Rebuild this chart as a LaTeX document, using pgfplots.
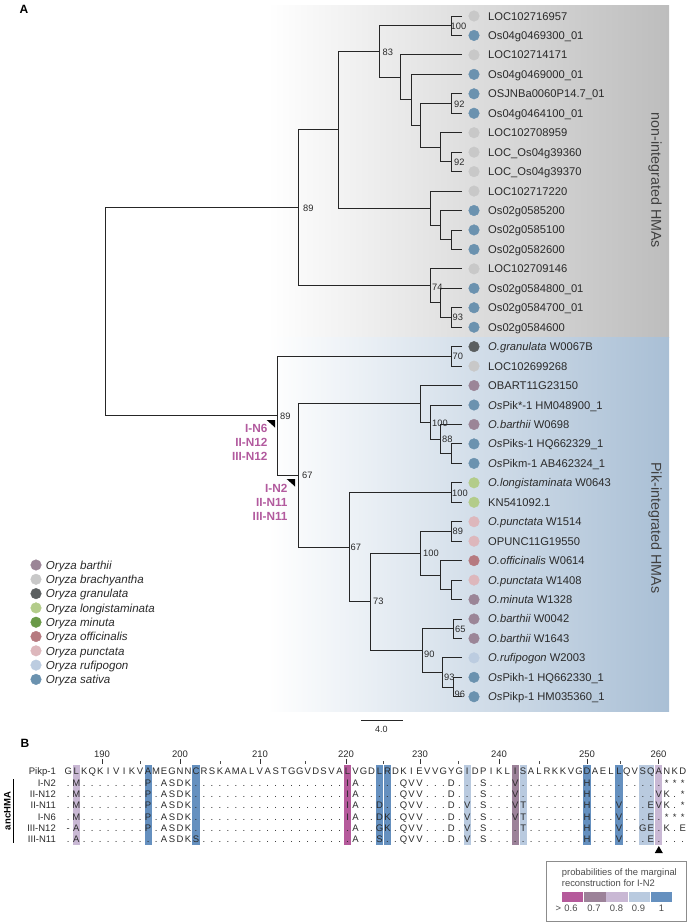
\documentclass[border=0pt]{standalone}
\usepackage{pgfplots}
\pgfplotsset{compat=1.18}
\usepackage{fontspec}
\setmainfont{Liberation Sans}
\definecolor{cbar}{HTML}{9B8597}
\definecolor{cbra}{HTML}{C8C8C8}
\definecolor{cgra}{HTML}{5B5F60}
\definecolor{clon}{HTML}{B3CC8A}
\definecolor{cmin}{HTML}{6A9A48}
\definecolor{coff}{HTML}{B67A80}
\definecolor{cpun}{HTML}{DDB7BC}
\definecolor{cruf}{HTML}{BCCCE0}
\definecolor{csat}{HTML}{6B92AF}
\definecolor{pinklab}{HTML}{B25A9E}
\definecolor{p06}{HTML}{B55A9B}
\definecolor{p07}{HTML}{9C8299}
\definecolor{p08}{HTML}{C9B8D4}
\definecolor{p09}{HTML}{B9CADF}
\definecolor{p10}{HTML}{6590BF}
\definecolor{graybg}{HTML}{BDBDBD}
\definecolor{graymid}{HTML}{EFEFEF}
\definecolor{bluebg}{HTML}{A9BFD5}
\definecolor{bluemid}{HTML}{E8EEF4}
\definecolor{txt}{HTML}{2A2A2A}
\tikzset{
  tr/.style={draw=black!85, line width=0.85pt},
  leaf/.style={anchor=base west, inner sep=0pt, font=\fontsize{11.2}{13}\selectfont, text=txt},
  bs/.style={anchor=base west, inner sep=0pt, font=\fontsize{9.3}{11}\selectfont, text=txt},
  pk/.style={anchor=base east, inner sep=0pt, font=\fontsize{11.8}{13}\selectfont\bfseries, text=pinklab},
  lg/.style={anchor=base west, inner sep=0pt, font=\fontsize{11.6}{13}\selectfont\itshape, text=txt},
  aln/.style={anchor=base, inner sep=0pt, font=\fontsize{9.5}{10}\selectfont, text=txt},
  rl/.style={anchor=base east, inner sep=0pt, font=\fontsize{9.5}{10}\selectfont, text=txt},
  num/.style={anchor=base, inner sep=0pt, font=\fontsize{9.5}{10}\selectfont, text=txt},
  dot/.style={only marks, mark=*, mark size=5.3pt, mark options={draw=none}}
}
\newcount\alncol
\def\alnrow#1#2{\def\alny{#1}\global\alncol=0 \alnchars#2\relax}
\def\alnchars#1{\ifx\relax#1\else\alnput{#1}\expandafter\alnchars\fi}
\def\alnput#1{\global\advance\alncol by 1
  \pgfmathsetmacro\alnx{68.3+7.98*(\the\alncol-1)}%
  \edef\alntmp{\noexpand\node[aln] at (axis cs:\alnx,\alny) {#1};}\alntmp}
\begin{document}
\begin{tikzpicture}
\begin{axis}[name=ax, at={(0,0)}, anchor=south west, scale only axis,
  width=688pt, height=922pt, xmin=0, xmax=688, ymin=0, ymax=922,
  y dir=reverse, hide axis, clip=false]
% background clade boxes
\addplot[draw=none, left color=white, middle color=graymid, right color=graybg] coordinates {(267,5) (669,5) (669,337) (267,337)} -- cycle;
\addplot[draw=none, left color=white, middle color=bluemid, right color=bluebg] coordinates {(267,337) (669,337) (669,711) (267,711)} -- cycle;
% tree
\addplot[tr] coordinates {(462,16) (451.7,16) (451.7,35.45) (462,35.45)};
\addplot[tr] coordinates {(462,93.8) (451.7,93.8) (451.7,113.25) (462,113.25)};
\addplot[tr] coordinates {(462,152.15) (451.7,152.15) (451.7,171.6) (462,171.6)};
\addplot[tr] coordinates {(462,132.7) (440.7,132.7) (440.7,161.9) (451.7,161.9)};
\addplot[tr] coordinates {(451.7,103.5) (420.7,103.5) (420.7,147.3) (440.7,147.3)};
\addplot[tr] coordinates {(462,74.35) (411,74.35) (411,125.4) (420.7,125.4)};
\addplot[tr] coordinates {(462,54.9) (400,54.9) (400,99.9) (411,99.9)};
\addplot[tr] coordinates {(451.7,25.7) (379.3,25.7) (379.3,77.4) (400,77.4)};
\addplot[tr] coordinates {(462,229.95) (451.7,229.95) (451.7,249.4) (462,249.4)};
\addplot[tr] coordinates {(462,210.5) (440.7,210.5) (440.7,239.7) (451.7,239.7)};
\addplot[tr] coordinates {(462,191.05) (430,191.05) (430,225.1) (440.7,225.1)};
\addplot[tr] coordinates {(379.3,51.6) (338.3,51.6) (338.3,208.1) (430,208.1)};
\addplot[tr] coordinates {(462,307.75) (451.7,307.75) (451.7,327.2) (462,327.2)};
\addplot[tr] coordinates {(462,288.3) (440.7,288.3) (440.7,317.5) (451.7,317.5)};
\addplot[tr] coordinates {(462,268.85) (430,268.85) (430,302.9) (440.7,302.9)};
\addplot[tr] coordinates {(338.3,129.9) (298.3,129.9) (298.3,285.9) (430,285.9)};
\addplot[tr] coordinates {(462,346.65) (451.7,346.65) (451.7,366.1) (462,366.1)};
\addplot[tr] coordinates {(462,443.9) (451.7,443.9) (451.7,463.35) (462,463.35)};
\addplot[tr] coordinates {(462,424.45) (440.7,424.45) (440.7,453.6) (451.7,453.6)};
\addplot[tr] coordinates {(462,405) (430,405) (430,439) (440.7,439)};
\addplot[tr] coordinates {(462,385.55) (420,385.55) (420,422) (430,422)};
\addplot[tr] coordinates {(462,482.8) (451.7,482.8) (451.7,502.25) (462,502.25)};
\addplot[tr] coordinates {(462,521.7) (451.7,521.7) (451.7,541.15) (462,541.15)};
\addplot[tr] coordinates {(462,580.05) (451.7,580.05) (451.7,599.5) (462,599.5)};
\addplot[tr] coordinates {(462,560.6) (440.7,560.6) (440.7,589.8) (451.7,589.8)};
\addplot[tr] coordinates {(451.7,531.4) (420,531.4) (420,575.2) (440.7,575.2)};
\addplot[tr] coordinates {(462,618.95) (453,618.95) (453,638.4) (462,638.4)};
\addplot[tr] coordinates {(462,677.3) (453,677.3) (453,696.75) (462,696.75)};
\addplot[tr] coordinates {(462,657.85) (442.5,657.85) (442.5,687) (453,687)};
\addplot[tr] coordinates {(453,628.7) (422,628.7) (422,672.4) (442.5,672.4)};
\addplot[tr] coordinates {(420,553.3) (370,553.3) (370,650.6) (422,650.6)};
\addplot[tr] coordinates {(451.7,492.5) (349.3,492.5) (349.3,601.9) (370,601.9)};
\addplot[tr] coordinates {(420,403.8) (298.3,403.8) (298.3,547.2) (349.3,547.2)};
\addplot[tr] coordinates {(451.7,356.4) (277,356.4) (277,475.5) (298.3,475.5)};
\addplot[tr] coordinates {(298.3,207.9) (105,207.9) (105,415.9) (277,415.9)};
% node triangles
\addplot[fill=black, draw=none] coordinates {(266.7,420) (275,420) (275,427.5)} -- cycle;
\addplot[fill=black, draw=none] coordinates {(286.7,479) (295,479) (295,486.5)} -- cycle;
% tip dots
\addplot[dot, color=cbra] coordinates {(474,16) (474,54.9) (474,132.7) (474,152.15) (474,171.6) (474,191.05) (474,268.85) (474,366.1)};
\addplot[dot, color=csat] coordinates {(474,35.45) (474,74.35) (474,93.8) (474,113.25) (474,210.5) (474,229.95) (474,249.4) (474,288.3) (474,307.75) (474,327.2) (474,405) (474,443.9) (474,463.35) (474,677.3) (474,696.75)};
\addplot[dot, color=cgra] coordinates {(474,346.65)};
\addplot[dot, color=cbar] coordinates {(474,385.55) (474,424.45) (474,599.5) (474,618.95) (474,638.4)};
\addplot[dot, color=clon] coordinates {(474,482.8) (474,502.25)};
\addplot[dot, color=cpun] coordinates {(474,521.7) (474,541.15) (474,580.05)};
\addplot[dot, color=coff] coordinates {(474,560.6)};
\addplot[dot, color=cruf] coordinates {(474,657.85)};
% legend dots
\addplot[dot, color=cbar] coordinates {(36,565)};
\addplot[dot, color=cbra] coordinates {(36,579.3)};
\addplot[dot, color=cgra] coordinates {(36,593.6)};
\addplot[dot, color=clon] coordinates {(36,607.9)};
\addplot[dot, color=cmin] coordinates {(36,622.2)};
\addplot[dot, color=coff] coordinates {(36,636.5)};
\addplot[dot, color=cpun] coordinates {(36,650.8)};
\addplot[dot, color=cruf] coordinates {(36,665.1)};
\addplot[dot, color=csat] coordinates {(36,679.4)};
% scale bar
\addplot[tr] coordinates {(361.4,720.4) (403.2,720.4)};
% leaf labels
\node[leaf] at (axis cs:488,20) {LOC102716957};
\node[leaf] at (axis cs:488,39.45) {Os04g0469300\_01};
\node[leaf] at (axis cs:488,58.9) {LOC102714171};
\node[leaf] at (axis cs:488,78.35) {Os04g0469000\_01};
\node[leaf] at (axis cs:488,97.8) {OSJNBa0060P14.7\_01};
\node[leaf] at (axis cs:488,117.25) {Os04g0464100\_01};
\node[leaf] at (axis cs:488,136.7) {LOC102708959};
\node[leaf] at (axis cs:488,156.15) {LOC\_Os04g39360};
\node[leaf] at (axis cs:488,175.6) {LOC\_Os04g39370};
\node[leaf] at (axis cs:488,195.05) {LOC102717220};
\node[leaf] at (axis cs:488,214.5) {Os02g0585200};
\node[leaf] at (axis cs:488,233.95) {Os02g0585100};
\node[leaf] at (axis cs:488,253.4) {Os02g0582600};
\node[leaf] at (axis cs:488,272.85) {LOC102709146};
\node[leaf] at (axis cs:488,292.3) {Os02g0584800\_01};
\node[leaf] at (axis cs:488,311.75) {Os02g0584700\_01};
\node[leaf] at (axis cs:488,331.2) {Os02g0584600};
\node[leaf] at (axis cs:488,350.65) {\textit{O.granulata} W0067B};
\node[leaf] at (axis cs:488,370.1) {LOC102699268};
\node[leaf] at (axis cs:488,389.55) {OBART11G23150};
\node[leaf] at (axis cs:488,409) {\textit{Os}Pik*-1 HM048900\_1};
\node[leaf] at (axis cs:488,428.45) {\textit{O.barthii} W0698};
\node[leaf] at (axis cs:488,447.9) {\textit{Os}Piks-1 HQ662329\_1};
\node[leaf] at (axis cs:488,467.35) {\textit{Os}Pikm-1 AB462324\_1};
\node[leaf] at (axis cs:488,486.8) {\textit{O.longistaminata} W0643};
\node[leaf] at (axis cs:488,506.25) {KN541092.1};
\node[leaf] at (axis cs:488,525.7) {\textit{O.punctata} W1514};
\node[leaf] at (axis cs:488,545.15) {OPUNC11G19550};
\node[leaf] at (axis cs:488,564.6) {\textit{O.officinalis} W0614};
\node[leaf] at (axis cs:488,584.05) {\textit{O.punctata} W1408};
\node[leaf] at (axis cs:488,603.5) {\textit{O.minuta} W1328};
\node[leaf] at (axis cs:488,622.95) {\textit{O.barthii} W0042};
\node[leaf] at (axis cs:488,642.4) {\textit{O.barthii} W1643};
\node[leaf] at (axis cs:488,661.85) {\textit{O.rufipogon} W2003};
\node[leaf] at (axis cs:488,681.3) {\textit{Os}Pikh-1 HQ662330\_1};
\node[leaf] at (axis cs:488,700.75) {\textit{Os}Pikp-1 HM035360\_1};
% bootstrap values
\node[bs] at (axis cs:450.5,29.3) {100};
\node[bs] at (axis cs:382.5,55.3) {83};
\node[bs] at (axis cs:454,107.3) {92};
\node[bs] at (axis cs:454,165.3) {92};
\node[bs] at (axis cs:303,211.3) {89};
\node[bs] at (axis cs:432,290.3) {74};
\node[bs] at (axis cs:452.5,320.3) {93};
\node[bs] at (axis cs:452.5,359.3) {70};
\node[bs] at (axis cs:280,419) {89};
\node[bs] at (axis cs:432,426) {100};
\node[bs] at (axis cs:442,442.3) {88};
\node[bs] at (axis cs:302,478.3) {67};
\node[bs] at (axis cs:452,496.3) {100};
\node[bs] at (axis cs:452.5,534.3) {89};
\node[bs] at (axis cs:423,556.3) {100};
\node[bs] at (axis cs:350.5,550.3) {67};
\node[bs] at (axis cs:373,604.3) {73};
\node[bs] at (axis cs:455,632) {65};
\node[bs] at (axis cs:424,657.3) {90};
\node[bs] at (axis cs:444,680.3) {93};
\node[bs] at (axis cs:454.5,697.3) {96};
% ancestral node labels
\node[pk] at (axis cs:267.7,432.5) {I-N6};
\node[pk] at (axis cs:267.7,446.5) {II-N12};
\node[pk] at (axis cs:267.7,460.9) {III-N12};
\node[pk] at (axis cs:287.7,492.5) {I-N2};
\node[pk] at (axis cs:287.7,506.9) {II-N11};
\node[pk] at (axis cs:287.7,520.9) {III-N11};
% legend text
\node[lg] at (axis cs:45.7,569.2) {Oryza barthii};
\node[lg] at (axis cs:45.7,583.5) {Oryza brachyantha};
\node[lg] at (axis cs:45.7,597.8) {Oryza granulata};
\node[lg] at (axis cs:45.7,612.1) {Oryza longistaminata};
\node[lg] at (axis cs:45.7,626.4) {Oryza minuta};
\node[lg] at (axis cs:45.7,640.7) {Oryza officinalis};
\node[lg] at (axis cs:45.7,655) {Oryza punctata};
\node[lg] at (axis cs:45.7,669.3) {Oryza rufipogon};
\node[lg] at (axis cs:45.7,683.6) {Oryza sativa};
% clade labels
\node[rotate=-90, inner sep=0pt, font=\fontsize{14.3}{15}\selectfont, text=black!75] at (axis cs:655,180.5) {non-integrated HMAs};
\node[rotate=-90, inner sep=0pt, font=\fontsize{14.3}{15}\selectfont, text=black!75] at (axis cs:655,528) {Pik-integrated HMAs};
\node[anchor=base, inner sep=0pt, font=\fontsize{9}{10}\selectfont, text=txt] at (axis cs:381.4,732) {4.0};
% panel letters
\node[inner sep=0pt, font=\fontsize{12}{13}\selectfont\bfseries] at (axis cs:24,9) {A};
\node[inner sep=0pt, font=\fontsize{12}{13}\selectfont\bfseries] at (axis cs:25,743) {B};
% ===== panel B =====
% highlight bands
\addplot[fill=p08, draw=none] coordinates {(72.7,765) (79.9,765) (79.9,845) (72.7,845)} -- cycle;
\addplot[fill=p10, draw=none] coordinates {(144.5,765) (151.7,765) (151.7,845) (144.5,845)} -- cycle;
\addplot[fill=p10, draw=none] coordinates {(192.4,765) (199.6,765) (199.6,845) (192.4,845)} -- cycle;
\addplot[fill=p06, draw=none] coordinates {(344,765) (351.2,765) (351.2,845) (344,845)} -- cycle;
\addplot[fill=p10, draw=none] coordinates {(375.9,765) (383.1,765) (383.1,845) (375.9,845)} -- cycle;
\addplot[fill=p10, draw=none] coordinates {(383.9,765) (391.1,765) (391.1,845) (383.9,845)} -- cycle;
\addplot[fill=p09, draw=none] coordinates {(463.7,765) (470.9,765) (470.9,845) (463.7,845)} -- cycle;
\addplot[fill=p07, draw=none] coordinates {(511.6,765) (518.8,765) (518.8,845) (511.6,845)} -- cycle;
\addplot[fill=p09, draw=none] coordinates {(519.6,765) (526.8,765) (526.8,845) (519.6,845)} -- cycle;
\addplot[fill=p10, draw=none] coordinates {(583.4,765) (590.6,765) (590.6,845) (583.4,845)} -- cycle;
\addplot[fill=p10, draw=none] coordinates {(615.3,765) (622.5,765) (622.5,845) (615.3,845)} -- cycle;
\addplot[fill=p09, draw=none] coordinates {(639.3,765) (646.5,765) (646.5,845) (639.3,845)} -- cycle;
\addplot[fill=p09, draw=none] coordinates {(647.2,765) (654.4,765) (654.4,845) (647.2,845)} -- cycle;
\addplot[fill=p08, draw=none] coordinates {(655.2,765) (662.4,765) (662.4,845) (655.2,845)} -- cycle;
% ruler ticks
\addplot[draw=black!80, line width=0.8pt] coordinates {(102,759) (102,763.5)};
\addplot[draw=black!80, line width=0.8pt] coordinates {(180,759) (180,763.5)};
\addplot[draw=black!80, line width=0.8pt] coordinates {(260,759) (260,763.5)};
\addplot[draw=black!80, line width=0.8pt] coordinates {(346,759) (346,763.5)};
\addplot[draw=black!80, line width=0.8pt] coordinates {(420,759) (420,763.5)};
\addplot[draw=black!80, line width=0.8pt] coordinates {(499,759) (499,763.5)};
\addplot[draw=black!80, line width=0.8pt] coordinates {(587,759) (587,763.5)};
\addplot[draw=black!80, line width=0.8pt] coordinates {(658.5,759) (658.5,763.5)};
\addplot[draw=black!70, line width=0.8pt] coordinates {(140,761) (140,763.5)};
\addplot[draw=black!70, line width=0.8pt] coordinates {(220,761) (220,763.5)};
\addplot[draw=black!70, line width=0.8pt] coordinates {(305,761) (305,763.5)};
\addplot[draw=black!70, line width=0.8pt] coordinates {(383,761) (383,763.5)};
\addplot[draw=black!70, line width=0.8pt] coordinates {(458,761) (458,763.5)};
\addplot[draw=black!70, line width=0.8pt] coordinates {(539,761) (539,763.5)};
\addplot[draw=black!70, line width=0.8pt] coordinates {(620,761) (620,763.5)};
\node[num] at (axis cs:102,757.3) {190};
\node[num] at (axis cs:180,757.3) {200};
\node[num] at (axis cs:260,757.3) {210};
\node[num] at (axis cs:346,757.3) {220};
\node[num] at (axis cs:420,757.3) {230};
\node[num] at (axis cs:499,757.3) {240};
\node[num] at (axis cs:587,757.3) {250};
\node[num] at (axis cs:658.5,757.3) {260};
% row labels
\node[rl] at (axis cs:56,774.9) {Pikp-1};
\node[rl] at (axis cs:56,786.2) {I-N2};
\node[rl] at (axis cs:56,797.5) {II-N12};
\node[rl] at (axis cs:56,808.8) {II-N11};
\node[rl] at (axis cs:56,820.1) {I-N6};
\node[rl] at (axis cs:56,831.4) {III-N12};
\node[rl] at (axis cs:56,842.7) {III-N11};
% alignment rows (78 columns, written in blocks of 10)
\alnrow{774.9}{GLKQKIVIKV AMEGNNCRSK AMALVASTGG VDSVALVGDL RDKIEVVGYG IDPIKLISAL RKKVGDAELL QVSQANKD}
\alnrow{786.2}{.M........ P.ASDK.... .......... .....IA... ..QVV...D. ..S...V... .....H.... .....***}
\alnrow{797.5}{.M........ P.ASDK.... .......... .....IA... ..QVV...D. ..S...V... .....H.... ....VK.*}
\alnrow{808.8}{.M........ P.ASDK.... .......... .....IA..D ..QVV...D. V.S...VT.. .....H...V ...EVK.*}
\alnrow{820.1}{.M........ P.ASDK.... .......... .....IA..D K.QVV...D. V.S...VT.. .....H...V ...E.***}
\alnrow{831.4}{-A........ P.ASDK.... .......... ......A..G K.QVV...D. V.S....T.. .....H...V ..GE.K.E}
\alnrow{842.7}{.A........ ..ASDKS... .......... ......A..S ..QVV...D. V.S....... .....H...V ...E....}
% ancHMA bracket
\addplot[draw=black, line width=0.9pt] coordinates {(13,779) (13,843)};
\node[rotate=90, inner sep=0pt, font=\fontsize{9.5}{10}\selectfont\bfseries] at (axis cs:7.5,811) {ancHMA};
% arrowhead
\addplot[fill=black, draw=none] coordinates {(658.8,846) (662.8,853) (654.8,853)} -- cycle;
% probability legend
\addplot[draw=black!45, fill=white, line width=0.8pt] coordinates {(546.7,861.7) (686,861.7) (686,921) (546.7,921)} -- cycle;
\addplot[fill=p06, draw=none] coordinates {(561.7,892.3) (583.2,892.3) (583.2,901.7) (561.7,901.7)} -- cycle;
\addplot[fill=p07, draw=none] coordinates {(584.0,892.3) (605.5,892.3) (605.5,901.7) (584.0,901.7)} -- cycle;
\addplot[fill=p08, draw=none] coordinates {(606.3,892.3) (627.8,892.3) (627.8,901.7) (606.3,901.7)} -- cycle;
\addplot[fill=p09, draw=none] coordinates {(628.6,892.3) (650.1,892.3) (650.1,901.7) (628.6,901.7)} -- cycle;
\addplot[fill=p10, draw=none] coordinates {(650.9,892.3) (672.4,892.3) (672.4,901.7) (650.9,901.7)} -- cycle;
\node[anchor=base west, inner sep=0pt, font=\fontsize{9.4}{10}\selectfont, text=black!70] at (axis cs:561.7,875.6) {probabilities of the marginal};
\node[anchor=base west, inner sep=0pt, font=\fontsize{9.4}{10}\selectfont, text=black!70] at (axis cs:561.7,886.3) {reconstruction for I-N2};
\node[anchor=base, inner sep=0pt, font=\fontsize{9.4}{10}\selectfont, text=black!70] at (axis cs:558.3,911) {>};
\node[anchor=base, inner sep=0pt, font=\fontsize{9.4}{10}\selectfont, text=black!70] at (axis cs:571,911) {0.6};
\node[anchor=base, inner sep=0pt, font=\fontsize{9.4}{10}\selectfont, text=black!70] at (axis cs:594,911) {0.7};
\node[anchor=base, inner sep=0pt, font=\fontsize{9.4}{10}\selectfont, text=black!70] at (axis cs:616.5,911) {0.8};
\node[anchor=base, inner sep=0pt, font=\fontsize{9.4}{10}\selectfont, text=black!70] at (axis cs:638.5,911) {0.9};
\node[anchor=base, inner sep=0pt, font=\fontsize{9.4}{10}\selectfont, text=black!70] at (axis cs:661.5,911) {1};
\end{axis}
\pgfresetboundingbox
\path[use as bounding box] (ax.south west) rectangle (ax.north east);
\end{tikzpicture}
\end{document}
